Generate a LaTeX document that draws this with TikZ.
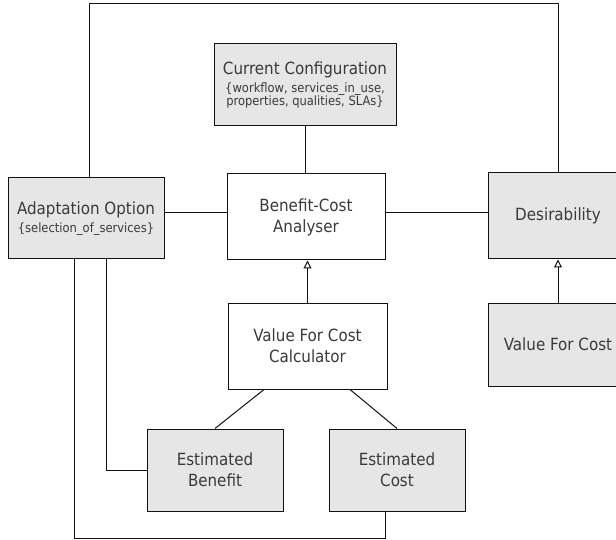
\documentclass[tikz,border=0pt]{standalone}
\usepackage{fontspec}
\setmainfont{DejaVu Sans Condensed}
\usetikzlibrary{arrows.meta}
\definecolor{boxfill}{HTML}{E6E6E6}
\definecolor{txt}{HTML}{3A3A3A}
\definecolor{edge}{HTML}{111111}
\newcommand{\bigtxt}{\fontsize{16.8}{21}\selectfont}
\newcommand{\smalltxt}{\fontsize{12.8}{13.3}\selectfont}
\tikzset{
  box/.style={draw=edge, line width=1pt, align=center, text=txt,
    inner sep=0pt, font=\bigtxt},
  shaded/.style={box, fill=boxfill},
  plain/.style={box, fill=white},
  withsub/.style={font=\smalltxt},
  link/.style={draw=edge, line width=1pt},
  uses/.style={link, -{Triangle[open, length=8pt, width=8pt, line width=1pt]}}
}
\begin{document}
\begin{tikzpicture}[x=1pt, y=-1pt]
  \useasboundingbox (0,0) rectangle (616,540);

  % components
  \node[shaded, withsub, minimum width=182pt, minimum height=82pt] (cc) at (305,85)
    {{\bigtxt Current Configuration}\\[4pt]\{workflow, services\_in\_use,\\properties, qualities, SLAs\}};
  \node[shaded, withsub, minimum width=156pt, minimum height=81pt] (ao) at (86,218.5)
    {{\bigtxt Adaptation Option}\\[4pt]\{selection\_of\_services\}};
  \node[plain, minimum width=158pt, minimum height=86pt] (bca) at (306,217)
    {Benefit-Cost\\Analyser};
  \node[shaded, minimum width=140pt, minimum height=86pt] (des) at (558,216)
    {Desirability};
  \node[shaded, minimum width=140pt, minimum height=83pt] (vfc) at (558,344.5)
    {Value For Cost};
  \node[plain, minimum width=159pt, minimum height=86pt] (calc) at (307.5,346)
    {Value For Cost\\Calculator};
  \node[shaded, minimum width=136pt, minimum height=82pt] (eb) at (215,470)
    {Estimated\\Benefit};
  \node[shaded, minimum width=136pt, minimum height=82pt] (ec) at (397,470)
    {Estimated\\Cost};

  % connections
  \draw[link] (cc.south) -- (cc.south |- bca.north);
  \draw[link] ([yshift=5.5pt]ao.east) -- ([yshift=5.5pt]ao.east -| bca.west);
  \draw[link] ([yshift=4pt]bca.east) -- ([yshift=4pt]bca.east -| des.west);
  \draw[uses] (calc.north) -- (calc.north |- bca.south);
  \draw[uses] (vfc.north) -- (des.south);
  \draw[link] ([xshift=-43.5pt]calc.south) -- (eb.north);
  \draw[link] ([xshift=42.5pt]calc.south) -- (ec.north);
  \draw[link] ([xshift=20pt]ao.south) |- (eb.west);
  \draw[link] ([xshift=-12pt]ao.south) |- ([xshift=-12pt, yshift=-27pt]ec.south)
    -- ([xshift=-12pt]ec.south);
  \draw[link] ([xshift=3pt]ao.north) |- ([yshift=169pt]des.north) -- (des.north);
\end{tikzpicture}
\end{document}
